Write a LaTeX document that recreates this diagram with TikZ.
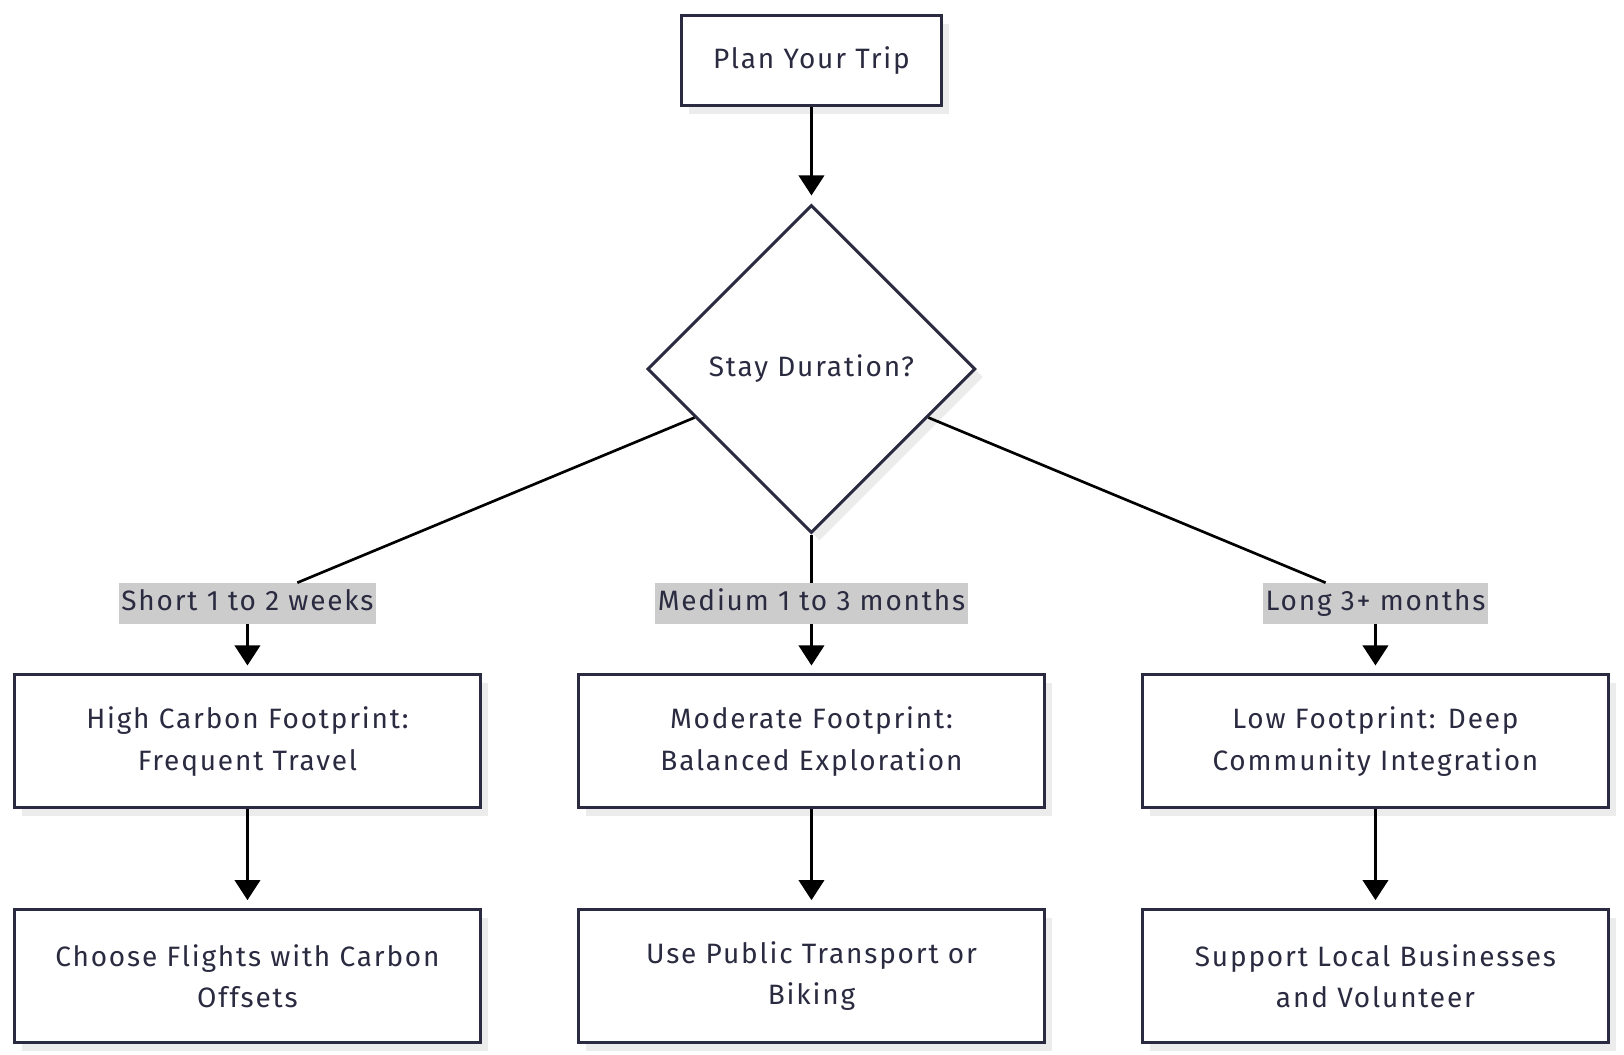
\documentclass[tikz,border=0pt]{standalone}
\usepackage{fontspec}
\setmainfont{Fira Sans}[LetterSpace=6.5]
\usepackage{tikz}
\usetikzlibrary{
    arrows.meta,
    positioning,
    shapes.geometric
}
\definecolor{inkcol}{RGB}{42,42,64}
\definecolor{shadowcol}{RGB}{236,236,236}
\definecolor{labelcol}{RGB}{204,204,204}
\tikzset{
    stepbox/.style={
        draw=inkcol,
        line width=2.25pt,
        fill=white,
        text=inkcol,
        align=center,
        minimum width=349.5pt,
        minimum height=99.75pt,
        preaction={
            draw=none,
            fill=shadowcol,
            transform canvas={shift={(6pt,-6pt)}}
        }
    }
}
\tikzset{
    decision/.style={
        diamond,
        draw=inkcol,
        line width=2.25pt,
        fill=white,
        text=inkcol,
        aspect=1,
        inner sep=0pt,
        minimum width=246pt,
        minimum height=246pt,
        preaction={
            draw=none,
            fill=shadowcol,
            transform canvas={shift={(6pt,-6pt)}}
        }
    }
}
\tikzset{
    durlabel/.style={
        fill=labelcol,
        text=inkcol,
        inner xsep=2pt,
        inner ysep=0pt,
        text height=16pt,
        text depth=5pt,
        minimum height=30.75pt
    }
}
\tikzset{
    flow/.style={
        draw=black,
        line width=2pt,
        -{Triangle[width=19pt,length=15pt]},
        shorten >=6pt
    }
}
\tikzset{
    branch/.style={
        draw=black,
        line width=2pt
    }
}

\begin{document}
\begin{tikzpicture}[
    font=\fontsize{21}{31}\selectfont
]

\useasboundingbox (0,0) rectangle (1218pt,-791.25pt);

% ------------------------------------------------------------
% Start and decision
% ------------------------------------------------------------

\node[stepbox, minimum width=195pt, minimum height=67.5pt] (plan)
    at (608.6pt,-45.4pt) {Plan Your Trip};

\node[decision] (duration)
    at (608.6pt,-276.75pt) {Stay Duration?};

% ------------------------------------------------------------
% Duration labels
% ------------------------------------------------------------

\node[durlabel] (short) at (185.6pt,-452.6pt) {Short 1 to 2 weeks};
\node[durlabel] (medium) at (608.6pt,-452.6pt) {Medium 1 to 3 months};
\node[durlabel] (long) at (1031.6pt,-452.6pt) {Long 3+ months};

% ------------------------------------------------------------
% Footprint boxes
% ------------------------------------------------------------

\node[stepbox] (high) at (185.6pt,-556.1pt)
    {High Carbon Footprint:\\Frequent Travel};
\node[stepbox] (moderate) at (608.6pt,-556.1pt)
    {Moderate Footprint:\\Balanced Exploration};
\node[stepbox] (low) at (1031.6pt,-556.1pt)
    {Low Footprint: Deep\\Community Integration};

% ------------------------------------------------------------
% Actions
% ------------------------------------------------------------

\node[stepbox, below=74pt of high] (flights)
    {Choose Flights with Carbon\\Offsets};
\node[stepbox, below=74pt of moderate] (transport)
    {Use Public Transport or\\Biking};
\node[stepbox, below=74pt of low] (support)
    {Support Local Businesses\\and Volunteer};

% ------------------------------------------------------------
% Connectors
% ------------------------------------------------------------

\draw[flow] (plan) -- (duration);

\draw[branch] (duration) -- (short);
\draw[branch] (duration) -- (medium);
\draw[branch] (duration) -- (long);

\draw[flow] (short) -- (high);
\draw[flow] (medium) -- (moderate);
\draw[flow] (long) -- (low);

\draw[flow] (high) -- (flights);
\draw[flow] (moderate) -- (transport);
\draw[flow] (low) -- (support);

\end{tikzpicture}
\end{document}
